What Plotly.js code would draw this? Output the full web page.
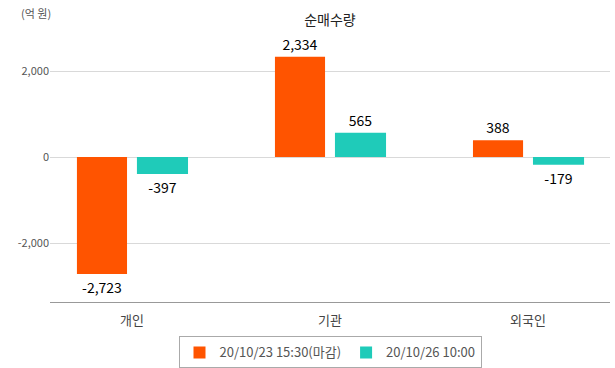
<!DOCTYPE html>
<html><head><meta charset="utf-8">
<script src="https://cdn.plot.ly/plotly-3.0.1.min.js"></script>
<style>body{margin:0;background:#fff}#c{width:615px;height:368px}</style>
</head><body><div id="c"></div>
<script>
const categories = ['개인', '기관', '외국인'];
const series1Name = '20/10/23 15:30(마감)';
const series1 = [-2723, 2334, 388];
const series2Name = '20/10/26 10:00';
const series2 = [-397, 565, -179];
const yTicks = [-2000, 0, 2000];
const yTickText = ['-2,000', '0', '2,000'];

const fmt = v => v.toLocaleString('en-US');
const font = '"Noto Sans CJK KR", "Noto Sans", sans-serif';

const traces = [
  {type:'bar', name:series1Name, x:categories, y:series1, text:series1.map(fmt),
   textposition:'outside', cliponaxis:false, marker:{color:'#FF5400'},
   width:0.253, offset:-0.278,
   textfont:{color:'#000', size:14, family:font}},
  {type:'bar', name:series2Name, x:categories, y:series2, text:series2.map(fmt),
   textposition:'outside', cliponaxis:false, marker:{color:'#1FCBB9'},
   width:0.258, offset:0.025,
   textfont:{color:'#000', size:14, family:font}}
];

const layout = {
  width:615, height:368,
  margin:{l:50, r:5, t:37, b:66, autoexpand:false},
  paper_bgcolor:'#fff', plot_bgcolor:'#fff',
  font:{family:font, color:'#444'},
  barmode:'overlay',
  title:{text:'순매수량', x:0.5, xref:'paper', y:0.945, yanchor:'middle', font:{size:14, color:'#222', family:font}},
  xaxis:{type:'category', range:[-0.414, 2.414], showgrid:false, zeroline:false,
    showline:true, linecolor:'#999', linewidth:1, ticks:'', ticklabelstandoff:6,
    tickfont:{size:13, color:'#444', family:font}},
  yaxis:{range:[-3372, 2791], tickvals:yTicks, ticktext:yTickText,
    showgrid:true, gridcolor:'#d9d9d9', zeroline:true, zerolinecolor:'#d9d9d9', zerolinewidth:1,
    showline:false, ticks:'', ticklen:0,
    tickfont:{size:11, color:'#555', family:font}},
  showlegend:true,
  legend:{orientation:'h', x:0.5, xanchor:'center', y:-0.13, yanchor:'top',
    bordercolor:'#aaa', borderwidth:1, bgcolor:'#fff',
    font:{size:13, color:'#555', family:font}, itemwidth:30, traceorder:'normal'},
  annotations:[{text:'(억 원)', xref:'paper', yref:'paper', x:-0.056, y:1.09, xanchor:'left', yanchor:'middle',
    showarrow:false, font:{size:11, color:'#555', family:font}}]
};
Plotly.newPlot('c', traces, layout, {displayModeBar:false, staticPlot:true});
</script></body></html>
